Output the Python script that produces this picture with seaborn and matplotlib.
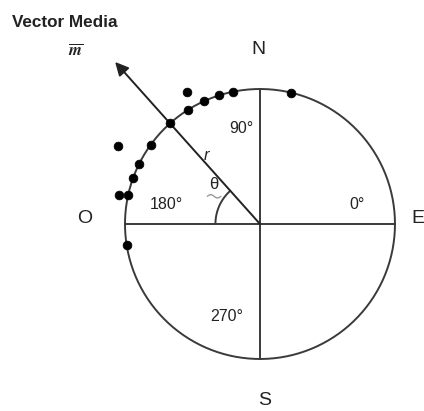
import numpy as np
import pandas as pd
import matplotlib
matplotlib.use("Agg")
import matplotlib.pyplot as plt
import seaborn as sns

# --- data (angle in degrees, radius in units of the circle) ---
point_angles = [76.6, 101.6, 107.8, 114.4, 119.0, 122.1, 131.6, 144.2, 151.1, 153.5, 160.3, 167.5, 168.4, 189.1]
point_radii = [1.0, 1.0, 1.0, 1.0, 1.12, 1.0, 1.0, 1.0, 1.2, 1.0, 1.0, 1.0, 1.07, 1.0]
mean_angle = 131.8
mean_length = 1.61
quadrant_labels = ["0°", "90°", "180°", "270°"]
cardinal_labels = ["N", "O", "E", "S"]

sns.set_style("white")
plt.rcParams['font.family'] = ['Liberation Sans', 'DejaVu Sans']

fig = plt.figure(figsize=(4.24, 4.11), dpi=100)
ax = fig.add_axes([0, 0, 1, 1])
ax.set_xlim(-1.926, 1.215)
ax.set_ylim(-1.385, 1.659)
ax.set_aspect("equal")
ax.axis("off")

line_col = "#3a3a3a"
lw = 1.4

# circle and cross
t = np.linspace(0, 2 * np.pi, 400)
ax.plot(np.cos(t), np.sin(t), color=line_col, lw=lw)
ax.plot([-1, 1], [0, 0], color=line_col, lw=lw)
ax.plot([0, 0], [-1, 1], color=line_col, lw=lw)

# mean vector
a = np.deg2rad(mean_angle)
ax.annotate("", xy=(mean_length * np.cos(a), mean_length * np.sin(a)), xytext=(0, 0),
            arrowprops=dict(arrowstyle="-|>,head_length=0.5,head_width=0.25", color="#222222",
                            lw=lw, mutation_scale=16, shrinkA=0, shrinkB=0))

# theta arc
ta = np.linspace(a, np.pi, 60)
ax.plot(0.33 * np.cos(ta), 0.33 * np.sin(ta), color=line_col, lw=lw)

# points
df = pd.DataFrame({
    "x": [r * np.cos(np.deg2rad(g)) for g, r in zip(point_angles, point_radii)],
    "y": [r * np.sin(np.deg2rad(g)) for g, r in zip(point_angles, point_radii)],
})
sns.scatterplot(data=df, x="x", y="y", color="black", s=40, edgecolor="black", zorder=5, ax=ax)

# labels
ax.text(-1.837, 1.496, "Vector Media", fontsize=12.3, fontweight="bold", ha="left", va="center",
        color="#222222")
ax.text(-1.363, 1.289, r"$\overline{\boldsymbol{m}}$", fontsize=12, ha="center", va="center",
        math_fontfamily="stix", color="#222222")

card_pos = [(-0.015, 1.289), (-1.296, 0.044), (1.125, 0.044), (0.037, -1.304)]
for lab, (x, y) in zip(cardinal_labels, card_pos):
    ax.text(x, y, lab, fontsize=14, ha="left" if lab == "E" else "center", va="center",
            color="#222222")

quad_pos = [(0.716, 0.148), (-0.136, 0.711), (-0.691, 0.141), (-0.247, -0.687)]
for lab, (x, y) in zip(quadrant_labels, quad_pos):
    ax.text(x, y, lab, fontsize=11.5, ha="center", va="center", color="#222222")

ax.text(-0.393, 0.511, "r", fontsize=12, style="italic", ha="center", va="center")
ax.text(-0.341, 0.29, "θ", fontsize=12, ha="center", va="center", color="#222222")

# little wavy mark under theta
wx = np.linspace(-0.39, -0.29, 30)
ax.plot(wx, 0.205 + 0.012 * np.sin((wx + 0.39) / 0.1 * 2 * np.pi), color="#999999", lw=1.0)

fig.savefig("out.png", dpi=100)
